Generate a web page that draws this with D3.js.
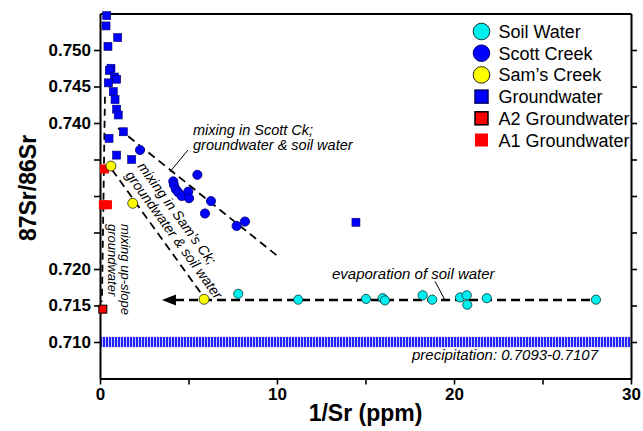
<!DOCTYPE html>
<html lang="en">
<head>
    <meta charset="UTF-8">
    <title>87Sr/86Sr vs 1/Sr</title>
    <script src="https://cdnjs.cloudflare.com/ajax/libs/d3/7.8.5/d3.min.js"></script>
    <style>
        body { margin: 0; background: #fff; }
        text { font-family: "Liberation Sans", Arial, sans-serif; }
    </style>
</head>
<body>
    <div id="wrapper"></div>
    <script>
        // data: [1/Sr (ppm), 87Sr/86Sr]
        const soilWater = [
            [7.81, 0.7166], [11.20, 0.7158], [15.03, 0.7159], [15.97, 0.7160],
            [16.10, 0.7157], [18.23, 0.7164], [18.77, 0.7158], [20.34, 0.7161],
            [20.72, 0.7164], [20.75, 0.7151], [21.85, 0.7160], [28.02, 0.7158]
        ]
        const scottCreek = [
            [2.26, 0.7363], [4.14, 0.7320], [4.18, 0.7315], [4.29, 0.7309],
            [4.42, 0.7305], [4.62, 0.7300], [4.99, 0.7306], [5.03, 0.7297],
            [5.50, 0.7329], [6.27, 0.7293], [5.93, 0.7276], [7.72, 0.7259],
            [8.19, 0.7265]
        ]
        const samsCreek = [[0.62, 0.7341], [1.85, 0.7290], [5.88, 0.71585]]
        const groundwater = [
            [0.38, 0.7547], [0.34, 0.7533], [1.00, 0.7517], [0.45, 0.7505],
            [0.62, 0.7475], [0.53, 0.7472], [0.81, 0.7463], [0.94, 0.7460],
            [0.47, 0.7455], [0.75, 0.7443], [0.85, 0.7432], [0.94, 0.7419],
            [1.03, 0.7411], [1.32, 0.7388], [0.51, 0.7379], [0.94, 0.7356],
            [1.79, 0.7350], [14.46, 0.7264]
        ]
        const a2Groundwater = [[0.16, 0.7145]]
        const a1Groundwater = [[0.25, 0.7337], [0.19, 0.7288], [0.42, 0.7288]]

        // mixing / evaporation lines
        const scottLine = [[1.02, 0.7393], [10.07, 0.7217]]
        const samsLine = [[0.68, 0.7336], [5.82, 0.7163]]
        const upslopeLine = [[0.28, 0.7436], [0.11, 0.7155]]
        const evapLine = [[4.24, 0.71575], [28.0, 0.71575]]
        const evapArrowTip = [3.5, 0.71575]
        const scottLeader = [[4.97, 0.7363], [3.95, 0.7333]]
        const evapLeader = [[18.93, 0.7183], [19.49, 0.71575]]
        const precipRange = [0.7093, 0.7107]

        const yTicks = [0.710, 0.715, 0.720, 0.725, 0.730, 0.735, 0.740, 0.745, 0.750]
        const yLabelled = [0.710, 0.715, 0.720, 0.740, 0.745, 0.750]
        const xTicks = [0, 5, 10, 15, 20, 25, 30]
        const xLabelled = [0, 10, 20, 30]

        let dimensions = {
            width: 643,
            height: 431,
            margin: { top: 13.5, right: 12, bottom: 52.5, left: 100 }
        }
        dimensions.boundedWidth = dimensions.width - dimensions.margin.left - dimensions.margin.right
        dimensions.boundedHeight = dimensions.height - dimensions.margin.top - dimensions.margin.bottom

        const wrapper = d3.select('#wrapper')
            .append('svg')
                .attr('width', dimensions.width)
                .attr('height', dimensions.height)

        const defs = wrapper.append('defs')
        const pat = defs.append('pattern')
            .attr('id', 'precip')
            .attr('patternUnits', 'userSpaceOnUse')
            .attr('width', 3).attr('height', 10)
        pat.append('rect').attr('width', 3).attr('height', 10).attr('fill', '#c8c8ff')
        pat.append('rect').attr('width', 2).attr('height', 10).attr('fill', '#2323ff')

        const bounds = wrapper.append('g')
            .attr('transform', `translate(${dimensions.margin.left},${dimensions.margin.top})`)

        const xScale = d3.scaleLinear()
            .domain([0, 30])
            .range([0, dimensions.boundedWidth])

        const yScale = d3.scaleLinear()
            .domain([0.705, 0.755])
            .range([dimensions.boundedHeight, 0])

        // precipitation band
        bounds.append('rect')
            .attr('x', xScale(0))
            .attr('width', xScale(30) - xScale(0))
            .attr('y', yScale(precipRange[1]))
            .attr('height', yScale(precipRange[0]) - yScale(precipRange[1]))
            .attr('fill', 'url(#precip)')

        // dashed lines
        const line = d3.line().x(d => xScale(d[0])).y(d => yScale(d[1]))
        const dashed = [
            { pts: scottLine, dash: '8,5', w: 1.8 },
            { pts: samsLine, dash: '8,5', w: 1.8 },
            { pts: upslopeLine, dash: '7,5', w: 1.8 },
            { pts: evapLine, dash: '9,5', w: 2.5 }
        ]
        bounds.selectAll('.mix')
            .data(dashed)
            .enter().append('path')
                .attr('class', 'mix')
                .attr('d', d => line(d.pts))
                .attr('fill', 'none')
                .attr('stroke', '#000')
                .attr('stroke-width', d => d.w)
                .attr('stroke-dasharray', d => d.dash)

        // leader lines
        bounds.selectAll('.leader')
            .data([scottLeader, evapLeader])
            .enter().append('path')
                .attr('class', 'leader')
                .attr('d', d => line(d))
                .attr('stroke', '#000')
                .attr('stroke-width', 1)

        // arrow head on evaporation line
        const tx = xScale(evapArrowTip[0]), ty = yScale(evapArrowTip[1])
        bounds.append('path')
            .attr('d', `M${tx},${ty} L${tx + 14},${ty - 5.5} L${tx + 14},${ty + 5.5} Z`)
            .attr('fill', '#000')

        // axes
        const yAxisLeft = d3.axisLeft(yScale)
            .tickValues(yTicks)
            .tickSize(6)
            .tickSizeOuter(0)
            .tickFormat(d => yLabelled.some(v => Math.abs(v - d) < 1e-6) ? d3.format('.3f')(d) : '')
        const yAxisRight = d3.axisRight(yScale)
            .tickValues(yTicks)
            .tickSize(6)
            .tickSizeOuter(0)
            .tickFormat('')
        const xAxisBottom = d3.axisBottom(xScale)
            .tickValues(xTicks)
            .tickSize(6)
            .tickSizeOuter(0)
            .tickFormat(d => xLabelled.includes(d) ? d : '')
        const xAxisTop = d3.axisTop(xScale).tickValues([]).tickSizeOuter(0)

        const axes = [
            bounds.append('g').call(yAxisLeft),
            bounds.append('g').attr('transform', `translate(${dimensions.boundedWidth},0)`).call(yAxisRight),
            bounds.append('g').attr('transform', `translate(0,${dimensions.boundedHeight})`).call(xAxisBottom),
            bounds.append('g').call(xAxisTop)
        ]
        axes.forEach(a => {
            a.select('.domain').attr('stroke-width', 2)
            a.selectAll('.tick line').attr('stroke-width', 1.6)
            a.selectAll('.tick text')
                .style('font-family', '"Liberation Sans", Arial, sans-serif')
                .style('font-size', '17px')
                .style('font-weight', 'bold')
                .attr('fill', '#000')
        })
        axes[0].selectAll('.tick text').attr('x', -9)
        axes[2].selectAll('.tick text').attr('y', 9)

        // markers
        const sq = (g, data, size, fill, stroke, sw, cls) => g.selectAll('.' + cls)
            .data(data)
            .enter().append('rect')
                .attr('class', cls)
                .attr('x', d => xScale(d[0]) - size / 2)
                .attr('y', d => yScale(d[1]) - size / 2)
                .attr('width', size).attr('height', size)
                .attr('fill', fill)
                .attr('stroke', stroke)
                .attr('stroke-width', sw)
        const dot = (g, data, r, fill, stroke, cls) => g.selectAll('.' + cls)
            .data(data)
            .enter().append('circle')
                .attr('class', cls)
                .attr('cx', d => xScale(d[0]))
                .attr('cy', d => yScale(d[1]))
                .attr('r', r)
                .attr('fill', fill)
                .attr('stroke', stroke)
                .attr('stroke-width', 0.8)

        sq(bounds, groundwater, 8, '#0000ff', '#000066', 0.6, 'gw')
        dot(bounds, scottCreek, 4.6, '#0000ff', '#000070', 'scott')
        dot(bounds, soilWater, 4.6, '#00f0f0', '#003333', 'soil')
        sq(bounds, a1Groundwater, 9, '#ff0000', 'none', 0, 'a1')
        sq(bounds, a2Groundwater, 8, '#ff0000', '#000', 1, 'a2')
        dot(bounds, samsCreek, 5, '#ffff00', '#222', 'sams')

        // annotations
        const note = (lines, x, y, size, rot, lh) => {
            const t = bounds.append('text')
                .attr('transform', `translate(${x},${y}) rotate(${rot})`)
                .style('font-size', size + 'px')
                .style('font-style', 'italic')
                .attr('fill', '#000')
            lines.forEach((l, i) => t.append('tspan').attr('x', 0).attr('y', i * lh).text(l))
        }
        const mx = dimensions.margin.left, my = dimensions.margin.top
        note(['mixing in Scott Ck;', 'groundwater & soil water'], 193 - mx, 135 - my, 14.5, 0, 14.5)
        note(['mixing in Sam\u2019s Ck;', 'groundwater & soil water'], 137 - mx, 166.5 - my, 14, 54, 15)
        note(['mixing up-slope', 'groundwater'], 120.5 - mx, 224 - my, 13, 90, 13)
        note(['evaporation of soil water'], 332 - mx, 279 - my, 15, 0, 0)
        note(['precipitation: 0.7093-0.7107'], 412 - mx, 360 - my, 15, 0, 0)

        // axis labels
        wrapper.append('text')
            .attr('x', dimensions.margin.left + dimensions.boundedWidth / 2)
            .attr('y', 421)
            .attr('text-anchor', 'middle')
            .style('font-size', '23px')
            .style('font-weight', 'bold')
            .text('1/Sr (ppm)')

        wrapper.append('text')
            .attr('transform', 'translate(36,188) rotate(-90)')
            .attr('text-anchor', 'middle')
            .style('font-size', '23px')
            .style('font-weight', 'bold')
            .text('87Sr/86Sr')

        // legend
        const legendItems = [
            { label: 'Soil Water', shape: 'circle', fill: '#00f0f0', stroke: '#003333' },
            { label: 'Scott Creek', shape: 'circle', fill: '#0000ff', stroke: '#000070' },
            { label: 'Sam\u2019s Creek', shape: 'circle', fill: '#ffff00', stroke: '#222' },
            { label: 'Groundwater', shape: 'square', fill: '#0000ff', stroke: '#000066' },
            { label: 'A2 Groundwater', shape: 'square', fill: '#ff0000', stroke: '#000' },
            { label: 'A1 Groundwater', shape: 'square', fill: '#ff0000', stroke: 'none' }
        ]
        const legend = wrapper.append('g').attr('transform', 'translate(481.5,31.5)')
        const rows = legend.selectAll('g')
            .data(legendItems)
            .enter().append('g')
                .attr('transform', (d, i) => `translate(0,${i * 21.7})`)
        rows.filter(d => d.shape === 'circle').append('circle')
            .attr('r', 8.3)
            .attr('fill', d => d.fill)
            .attr('stroke', d => d.stroke)
            .attr('stroke-width', 1)
        rows.filter(d => d.shape === 'square').append('rect')
            .attr('x', -6.5).attr('y', -6.5)
            .attr('width', 13).attr('height', 13)
            .attr('fill', d => d.fill)
            .attr('stroke', d => d.stroke)
            .attr('stroke-width', 1.5)
        rows.append('text')
            .attr('x', 17)
            .attr('y', 6.5)
            .style('font-size', '18px')
            .text(d => d.label)
    </script>
</body>
</html>
